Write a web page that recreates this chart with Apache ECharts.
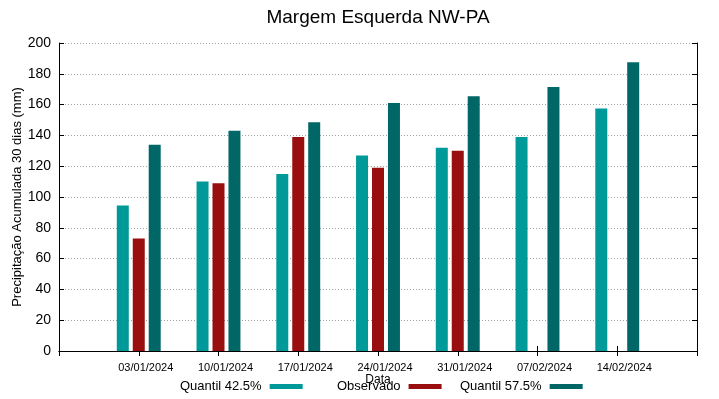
<!DOCTYPE html>
<html>
<head>
<meta charset="utf-8">
<script src="https://cdn.jsdelivr.net/npm/echarts@6/dist/echarts.min.js"></script>
<style>
  html, body { margin: 0; padding: 0; background: #fff; }
  #main { width: 719px; height: 399px; }
</style>
</head>
<body>
<div id="main"></div>
<script>
// datas (empty slot before and after, like the gnuplot range)
var datas = ["", "03/01/2024", "10/01/2024", "17/01/2024", "24/01/2024", "31/01/2024", "07/02/2024", "14/02/2024", ""];
var quantil425 = [null, 94.5, 110, 115, 127, 132, 139, 157.5, null];
var observado = [null, 73, 109, 139, 119, 130, null, null, null];
var quantil575 = [null, 134, 143, 148.5, 161, 165.5, 171.5, 187.5, null];
var yTicks = [0, 20, 40, 60, 80, 100, 120, 140, 160, 180, 200];

var fonte = "Liberation Sans, Arial, sans-serif";
var myChart = echarts.init(document.getElementById("main"));

var option = {
  animation: false,
  textStyle: { fontFamily: fonte },
  color: ["#009999", "#990e0e", "#006666"],
  title: {
    text: "Margem Esquerda NW-PA",
    left: 373,
    textAlign: "center",
    top: 3,
    textStyle: { color: "#000", fontSize: 19, fontWeight: "normal", fontFamily: fonte }
  },
  // uma legenda por serie, texto antes da amostra
  legend: [
    { data: ["Quantil 42.5%"], left: 180 },
    { data: ["Observado"], left: 337 },
    { data: ["Quantil 57.5%"], left: 460 }
  ].map(function (l) {
    return Object.assign({
      top: 380,
      align: "right",
      icon: "rect",
      itemWidth: 33,
      itemHeight: 5,
      padding: 0,
      selectedMode: false,
      textStyle: { color: "#000", fontSize: 13, fontFamily: fonte, padding: [0, 3, 0, 0] }
    }, l);
  }),
  grid: { left: 59, right: 22, top: 43, bottom: 48, outerBoundsMode: "none" },
  xAxis: [{
    type: "category",
    data: datas,
    boundaryGap: false,
    name: "Data",
    nameLocation: "middle",
    nameGap: 23,
    nameMoveOverlap: false,
    nameTextStyle: { color: "#000", fontSize: 12, fontFamily: fonte },
    axisLine: { lineStyle: { color: "#000", width: 1 } },
    axisTick: { inside: true, length: 5, lineStyle: { color: "#000" } },
    // rotulos do gnuplot ficam um pouco a direita do tick
    axisLabel: { color: "#000", fontSize: 11, margin: 11, interval: 0, padding: [0, 0, 0, 14], fontFamily: fonte },
    splitLine: { show: false }
  }, {
    type: "category",
    data: datas,
    boundaryGap: false,
    position: "top",
    axisLine: { lineStyle: { color: "#000", width: 1 } },
    axisTick: { inside: true, length: 5, lineStyle: { color: "#000" } },
    axisLabel: { show: false },
    splitLine: { show: false }
  }],
  yAxis: [{
    type: "value",
    min: yTicks[0],
    max: yTicks[yTicks.length - 1],
    interval: 20,
    name: "Precipitação Acumulada 30 dias (mm)",
    nameLocation: "middle",
    nameRotate: 90,
    nameGap: 35,
    nameMoveOverlap: false,
    nameTextStyle: { color: "#000", fontSize: 13, fontFamily: fonte },
    axisLine: { show: true, lineStyle: { color: "#000", width: 1 } },
    axisTick: { show: true, inside: true, length: 5, lineStyle: { color: "#000" } },
    axisLabel: { color: "#000", fontSize: 14, margin: 8, fontFamily: fonte },
    splitLine: { show: true, lineStyle: { color: "#a0a0a0", type: [1, 2], width: 1 } }
  }, {
    type: "value",
    min: yTicks[0],
    max: yTicks[yTicks.length - 1],
    interval: 20,
    position: "right",
    axisLine: { show: true, lineStyle: { color: "#000", width: 1 } },
    axisTick: { show: true, inside: true, length: 5, lineStyle: { color: "#000" } },
    axisLabel: { show: false },
    splitLine: { show: false }
  }],
  series: [
    { name: "Quantil 42.5%", type: "bar", data: quantil425, barWidth: 12, barGap: "33%" },
    { name: "Observado", type: "bar", data: observado, barWidth: 12, barGap: "33%" },
    { name: "Quantil 57.5%", type: "bar", data: quantil575, barWidth: 12, barGap: "33%" }
  ]
};

myChart.setOption(option);
window.addEventListener("resize", function () {
  myChart.resize();
});
</script>
</body>
</html>
